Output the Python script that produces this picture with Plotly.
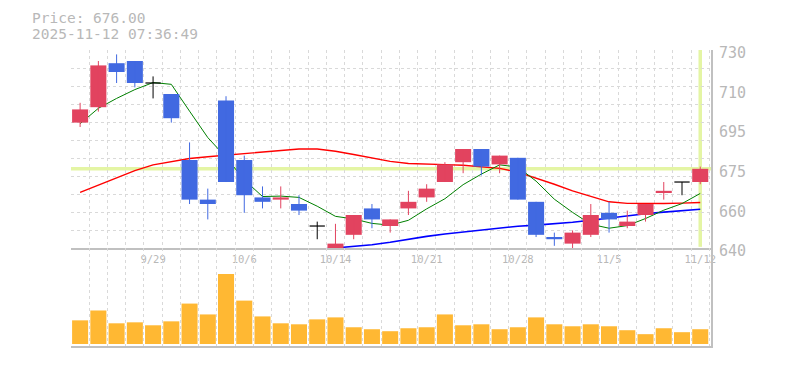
import plotly.graph_objects as go

# ---------------- data ----------------
dates = ['9/22', '9/24', '9/25', '9/26', '9/29', '9/30', '10/1', '10/2', '10/3',
         '10/6', '10/7', '10/8', '10/9', '10/10', '10/14', '10/15', '10/16', '10/17',
         '10/20', '10/21', '10/22', '10/23', '10/24', '10/27', '10/28', '10/29',
         '10/30', '10/31', '11/4', '11/5', '11/6', '11/7', '11/10', '11/11', '11/12']
opens = [697, 704, 724, 725, 715, 710, 680, 662, 707, 680, 663, 662, 660, 650, 640, 646,
         658, 650, 658, 663, 670, 679, 685, 678, 681, 661, 645, 642, 646, 656, 650, 655,
         665, 670, 670]
highs = [706, 725, 728, 725, 718, 710, 688, 667, 709, 682, 668, 668, 664, 652, 651, 655,
         660, 653, 666, 669, 679, 685, 685, 682, 681, 661, 647, 648, 660, 661, 657, 660,
         670, 670, 677]
lows = [695, 702, 715, 713, 708, 697, 660, 653, 670, 656, 658, 658, 655, 644, 640, 644,
        649, 647, 655, 661, 670, 674, 673, 674, 662, 645, 641, 640, 645, 647, 649, 652,
        662, 664, 669]
closes = [703, 723, 720, 715, 715, 699, 662, 660, 670, 664, 661, 663, 657, 650, 642, 655,
          653, 653, 661, 667, 678, 685, 677, 682, 662, 646, 644, 647, 655, 653, 652, 660,
          666, 670, 676]
volumes = [24000, 34000, 21000, 22000, 19000, 23000, 41000, 30000, 71000, 44000, 28000,
           21000, 20000, 25000, 27000, 17000, 15000, 13000, 16000, 17000, 30000, 19000,
           20000, 15000, 17000, 27000, 20000, 18000, 20000, 18000, 14000, 10000, 16000,
           12000, 15000]
ma5 = [696.5, 703.5, 708.0, 712.0, 715.2, 714.4, 702.2, 690.2, 681.2, 671.0, 663.4, 663.6,
       663.0, 659.0, 654.4, 653.2, 651.2, 650.4, 652.6, 657.8, 662.4, 668.8, 673.6, 677.8,
       676.8, 670.4, 662.2, 656.2, 650.8, 649.0, 650.2, 653.4, 657.2, 660.2, 664.8]
ma25 = [665.3, 668.6, 672.0, 675.2, 677.8, 679.4, 680.7, 681.5, 682.2, 683.0, 683.7, 684.4,
        685.0, 685.0, 684.0, 682.5, 680.8, 679.4, 678.4, 678.0, 677.9, 677.6, 677.0, 676.2,
        674.5, 671.8, 669.0, 666.0, 663.5, 661.0, 660.3, 660.2, 660.25, 660.4, 660.7]
ma75 = [None, None, None, None, None, None, None, None, None, None, None, None, None,
        639.3, 640.0, 640.7, 641.5, 642.6, 644.0, 645.3, 646.4, 647.3, 648.2, 649.3, 649.9,
        650.4, 651.0, 651.7, 652.6, 653.7, 654.6, 655.6, 656.3, 657.0, 657.6]
tick_dates = ['9/29', '10/6', '10/14', '10/21', '10/28', '11/5', '11/12']
price_tick_vals = [640, 658, 676, 694, 712, 730]
price_tick_text = ['640', '660', '675', '695', '710', '730']
timestamp = '2025-11-12 07:36:49'

# ---------------- style ----------------
UP = '#e2435f'
DOWN = '#4169e1'
DOJI = '#000000'
VOL = '#ffb833'
GUIDE = '#e4f5a4'
GRID = '#d9d9d9'
AXIS = '#c0c0c0'
TEXT = '#b8b8b8'
MONO = 'DejaVu Sans Mono'
BODY_W = 0.88
Y_MIN, Y_MAX = 640, 730

FIG_W, FIG_H = 785, 370
M_L, M_T, M_R, M_B = 71, 50, 74, 20
PLOT_W, PLOT_H = FIG_W - M_L - M_R, FIG_H - M_T - M_B

x = list(range(len(dates)))
fig = go.Figure()

# current price guide lines (under everything else)
fig.add_shape(type='line', xref='paper', x0=0, x1=1, yref='y', y0=closes[-1], y1=closes[-1],
              line=dict(color=GUIDE, width=3.5), layer='below')
fig.add_shape(type='line', xref='x', x0=x[-1], x1=x[-1], yref='y domain', y0=0.006, y1=1,
              line=dict(color=GUIDE, width=3.5), layer='below')

# moving averages on base axes
fig.add_trace(go.Scatter(x=x, y=ma25, mode='lines', line=dict(color='#ff0000', width=1.4),
                         xaxis='x', yaxis='y', hoverinfo='skip'))
fig.add_trace(go.Scatter(x=x, y=ma75, mode='lines', line=dict(color='#0000ff', width=1.6),
                         xaxis='x', yaxis='y', hoverinfo='skip'))
fig.add_trace(go.Scatter(x=x, y=ma5, mode='lines', line=dict(color='#008000', width=1),
                         xaxis='x', yaxis='y', hoverinfo='skip'))

# candles on overlay axes (drawn above the moving averages)
kinds = ['up' if c > o else ('down' if c < o else 'doji') for o, c in zip(opens, closes)]
for kind, color in (('up', UP), ('down', DOWN), ('doji', DOJI)):
    idx = [i for i in x if kinds[i] == kind]
    wx, wy = [], []
    for i in idx:
        wx += [i, i, None]
        wy += [lows[i], highs[i], None]
    fig.add_trace(go.Scatter(x=wx, y=wy, mode='lines', line=dict(color=color, width=1),
                             xaxis='x', yaxis='y3', hoverinfo='skip'))
    if kind == 'doji':
        dx, dy = [], []
        for i in idx:
            dx += [i - BODY_W / 2.1, i + BODY_W / 2.1, None]
            dy += [opens[i], opens[i], None]
        fig.add_trace(go.Scatter(x=dx, y=dy, mode='lines', line=dict(color=color, width=1.2),
                                 xaxis='x', yaxis='y3', hoverinfo='skip'))
    else:
        fig.add_trace(go.Bar(x=idx, base=[min(opens[i], closes[i]) for i in idx],
                             y=[abs(closes[i] - opens[i]) for i in idx], width=BODY_W,
                             marker=dict(color=color, line=dict(width=0)),
                             xaxis='x', yaxis='y3', hoverinfo='skip'))

# volume
fig.add_trace(go.Bar(x=x, y=volumes, width=BODY_W, marker=dict(color=VOL, line=dict(width=0)),
                     xaxis='x2', yaxis='y2', hoverinfo='skip'))

x_range = [-0.5, len(dates) - 0.41]
half_steps = [i - 0.5 for i in range(len(dates) + 1)]
grid_y = [Y_MIN + k * (Y_MAX - Y_MIN) / 11 for k in range(12)]
minor_x = dict(tickmode='array', tickvals=half_steps, showgrid=True, gridcolor=GRID,
               griddash='3px,3px', gridwidth=1, ticks='')
split = 0.331

fig.update_layout(
    width=FIG_W, height=FIG_H,
    margin=dict(l=M_L, r=M_R, t=M_T, b=M_B, pad=0),
    paper_bgcolor='white', plot_bgcolor='white',
    showlegend=False, barmode='overlay',
    xaxis=dict(domain=[0, 1], anchor='y', range=x_range, tickmode='array',
               tickvals=[dates.index(d) for d in tick_dates], ticktext=tick_dates,
               showgrid=False, zeroline=False, showline=True, linecolor=AXIS, linewidth=2,
               ticks='', tickfont=dict(family=MONO, size=10.5, color=TEXT), minor=minor_x),
    xaxis2=dict(domain=[0, 1], anchor='y2', range=x_range, matches='x',
                showticklabels=False, showgrid=False, zeroline=False, showline=True,
                linecolor=AXIS, linewidth=2, ticks='', minor=minor_x),
    yaxis=dict(domain=[split, 1], anchor='x', range=[Y_MIN, Y_MAX], side='right',
               tickmode='array', tickvals=grid_y, showticklabels=False, showgrid=True,
               gridcolor=GRID, griddash='3px,3px', gridwidth=1, zeroline=False,
               showline=True, linecolor=AXIS, linewidth=2, ticks=''),
    yaxis3=dict(overlaying='y', anchor='x', range=[Y_MIN, Y_MAX], side='right',
                tickmode='array', tickvals=price_tick_vals, ticktext=price_tick_text,
                showgrid=False, zeroline=False, showline=False,
                ticks='outside', ticklen=4, tickcolor='rgba(0,0,0,0)', ticklabelshift=3,
                tickfont=dict(family=MONO, size=15, color=TEXT)),
    yaxis2=dict(domain=[0, split], anchor='x2', range=[-2000, 97300], side='right',
                showticklabels=False, showgrid=False, zeroline=False, showline=True,
                linecolor=AXIS, linewidth=2, ticks=''),
)

hx = (30 - M_L) / PLOT_W
fig.add_annotation(text=f'Price: {closes[-1]:.2f}', xref='paper', yref='paper',
                   x=hx, y=1 + (M_T - 17.2) / PLOT_H, xanchor='left',
                   yanchor='middle', showarrow=False,
                   font=dict(family=MONO, size=14.5, color=TEXT))
fig.add_annotation(text=timestamp, xref='paper', yref='paper',
                   x=hx, y=1 + (M_T - 34.2) / PLOT_H, xanchor='left',
                   yanchor='middle', showarrow=False,
                   font=dict(family=MONO, size=14.5, color=TEXT))

# remove the browser's default page margin so the figure sits at the window origin
fig.write_html('out.html', config={'displayModeBar': False},
               post_script="document.body.style.margin='0';")
